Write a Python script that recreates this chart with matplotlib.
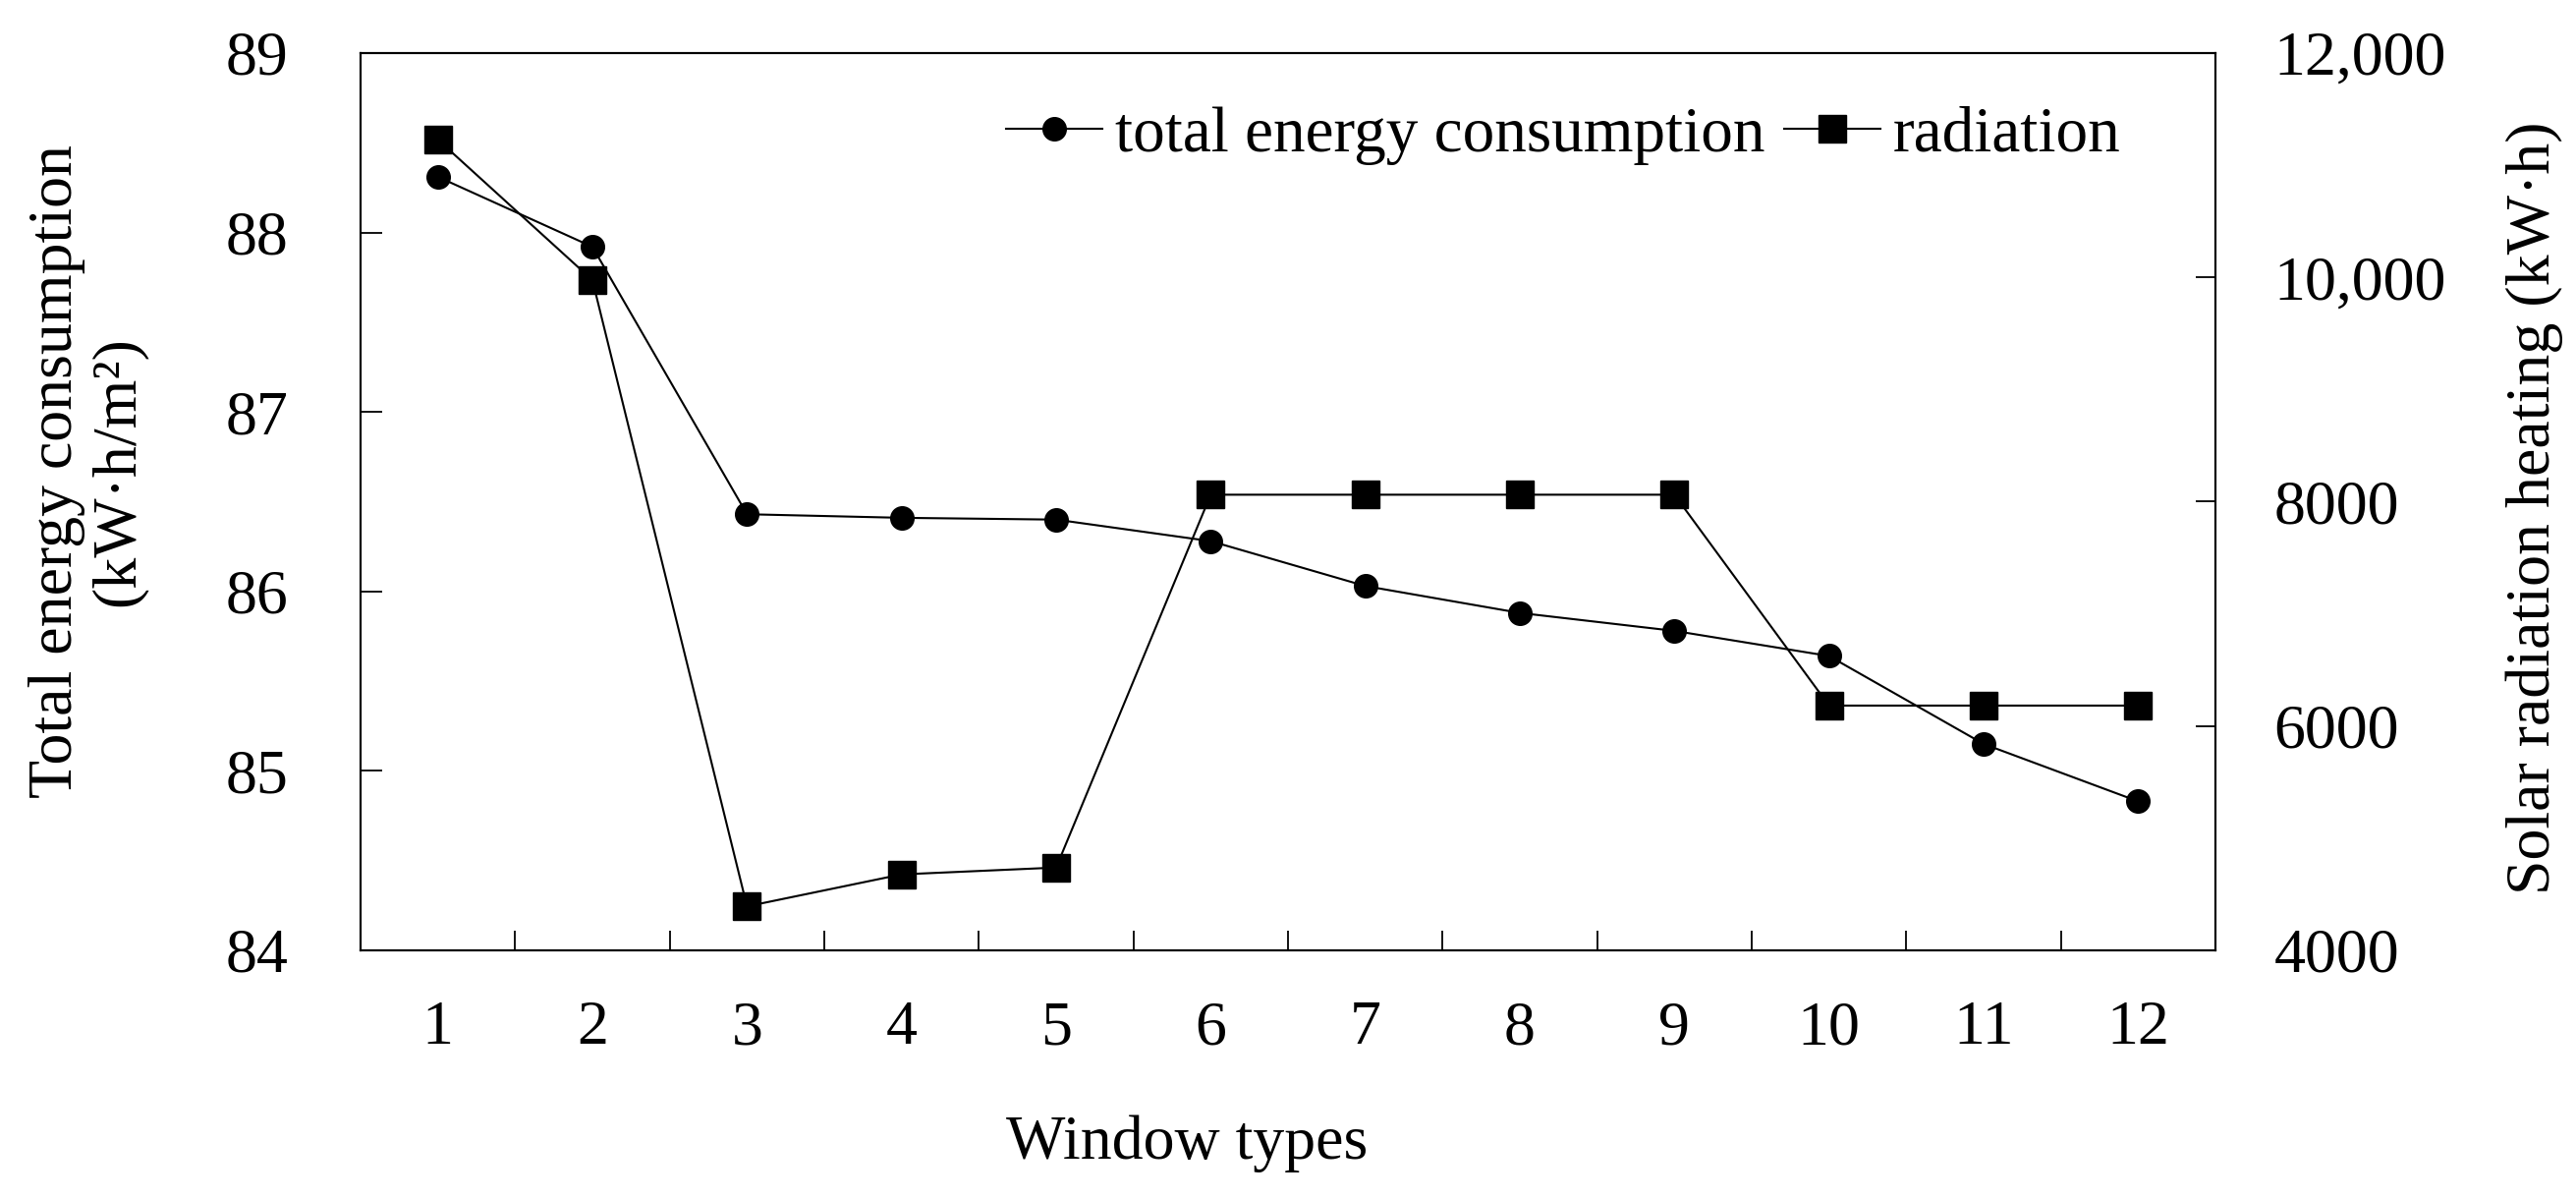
import matplotlib
matplotlib.use('Agg')
import matplotlib.pyplot as plt
from matplotlib.ticker import FixedLocator

plt.rcParams['font.family'] = ['Liberation Serif', 'DejaVu Serif']
plt.rcParams['font.size'] = 46

# Data
window_types = [1, 2, 3, 4, 5, 6, 7, 8, 9, 10, 11, 12]
total_energy = [88.31, 87.92, 86.43, 86.41, 86.40, 86.28, 86.03, 85.88, 85.78, 85.64, 85.15, 84.83]
radiation = [11228, 9975, 4392, 4677, 4738, 8062, 8062, 8062, 8062, 6182, 6182, 6182]

left_ticks = [84, 85, 86, 87, 88, 89]
right_ticks = [4000, 6000, 8000, 10000, 12000]
right_tick_labels = ['4000', '6000', '8000', '10,000', '12,000']

fig = plt.figure(figsize=(26.22, 12.2), dpi=100)
ax = fig.add_axes([0.13997, 0.2074, 0.72006, 0.7484])
ax2 = ax.twinx()

l1, = ax.plot(window_types, total_energy, color='black', linewidth=1.5,
              marker='o', markersize=17, label='total energy consumption')
l2, = ax2.plot(window_types, radiation, color='black', linewidth=1.5,
               marker='s', markersize=20, label='radiation')

ax.set_xlim(0.5, 12.5)
ax.set_ylim(84, 89)
ax2.set_ylim(4000, 12000)

# x axis: labels at categories, tick marks between them
ax.set_xticks(window_types)
ax.xaxis.set_minor_locator(FixedLocator([x + 0.5 for x in window_types[:-1]]))
ax.tick_params(axis='x', which='major', length=0, pad=37, labelsize=46)
ax.tick_params(axis='x', which='minor', direction='in', length=14.5, width=1.3, top=False)

ax.set_yticks(left_ticks)
ax.tick_params(axis='y', direction='in', length=16, width=1.3, pad=53, labelsize=46, right=False)

ax2.set_yticks(right_ticks)
ax2.set_yticklabels(right_tick_labels)
ax2.tick_params(axis='y', direction='in', length=14.5, width=1.3, pad=43, labelsize=46, left=False)

for a in (ax, ax2):
    for s in a.spines.values():
        s.set_linewidth(1.5)

fig.text(0.034, 0.607, 'Total energy consumption\n(kW·h/m²)', rotation=90,
         ha='center', va='center', multialignment='center', fontsize=46, linespacing=1.1)
fig.text(0.984, 0.576, 'Solar radiation heating (kW·h)', rotation=90,
         ha='center', va='center', fontsize=46)
fig.text(0.4607, 0.034, 'Window types', ha='center', va='baseline', fontsize=46)

ax2.legend([l1, l2], ['total energy consumption', 'radiation'], ncol=2, frameon=False,
           loc='center right', bbox_to_anchor=(0.949, 0.908), borderpad=0, borderaxespad=0,
           handlelength=1.5, handletextpad=0.2, columnspacing=0.3, fontsize=47)

fig.savefig('out.png', dpi=100, facecolor='white')
